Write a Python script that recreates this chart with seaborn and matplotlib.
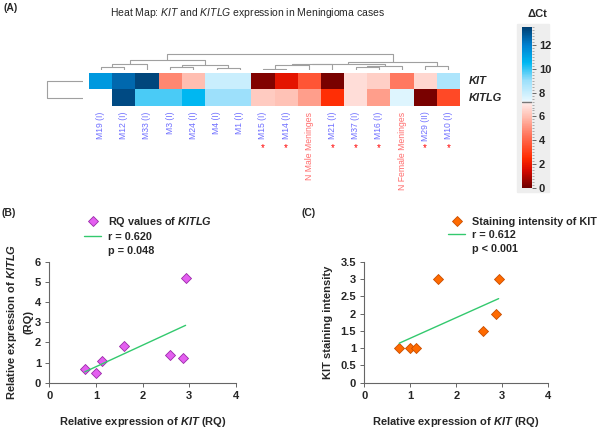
import numpy as np
import pandas as pd
import seaborn as sns
import matplotlib.pyplot as plt
from matplotlib.colors import LinearSegmentedColormap
from matplotlib.lines import Line2D
from matplotlib.patches import Rectangle
from matplotlib.ticker import FuncFormatter, MultipleLocator
from matplotlib.transforms import blended_transform_factory

sns.set_style('ticks')
plt.rcParams['font.family'] = ['Liberation Sans', 'DejaVu Sans']
plt.rcParams['mathtext.fontset'] = 'custom'
plt.rcParams['mathtext.rm'] = 'Liberation Sans'
plt.rcParams['mathtext.it'] = 'Liberation Sans:italic'
plt.rcParams['mathtext.bf'] = 'Liberation Sans:bold'
plt.rcParams['mathtext.bfit'] = 'Liberation Sans:italic:bold'

# ---- data ----
genes = ['KIT', 'KITLG']
samples = ['M19 (I)', 'M12 (I)', 'M33 (I)', 'M3 (I)', 'M24 (I)', 'M4 (I)', 'M1 (I)',
           'M15 (I)', 'M14 (I)', 'N Male Meninges', 'M21 (I)', 'M37 (I)', 'M16 (I)',
           'N Female Meninges', 'M29 (II)', 'M10 (I)']
starred = [False, False, False, False, False, False, False,
           True, True, False, True, True, True, False, True, True]
kit_dct = [11.3, 12.5, 13.3, 4.8, 6.0, 8.0, 8.0, 0.3, 1.8, 3.6, 0.2, 6.8, 6.4, 4.5, 6.6, 8.6]
kitlg_dct = [np.nan, 13.2, 9.8, 9.8, 10.5, 9.0, 9.0, 6.3, 6.1, 5.3, 2.6, 6.8, 5.3, 7.5, 0.2, 3.3]

# merges (left, right, height); leaves 0-15 in plotted order, new nodes numbered from 16
col_merges = [(0, 1, 2.7), (16, 2, 5.7), (3, 4, 3.0), (5, 6, 2.0), (18, 19, 5.0),
              (17, 20, 10.0), (7, 8, 1.5), (22, 9, 5.0), (23, 10, 6.0), (11, 12, 3.0),
              (25, 13, 4.5), (24, 26, 6.5), (14, 15, 4.3), (27, 28, 8.3), (21, 29, 15.7)]
row_merges = [(0, 1, 36.3)]

kit_rq = [0.76, 0.99, 1.13, 1.61, 2.59, 2.86, 2.92]
kitlg_rq = [0.70, 0.46, 1.06, 1.83, 1.36, 1.22, 5.18]
kit_staining = [1, 1, 1, 3, 1.5, 2, 3]

W, H = 600, 430
fig = plt.figure(figsize=(6, 4.3), dpi=100)


def px_axes(left, top, right, bottom):
    return fig.add_axes([left / W, 1 - bottom / H, (right - left) / W, (bottom - top) / H])


def draw_dendrogram(ax, merges, n_leaves, side='top'):
    pos = {i: i + 0.5 for i in range(n_leaves)}
    height = {i: 0.0 for i in range(n_leaves)}
    for k, (a, b, h) in enumerate(merges):
        xs = [pos[a], pos[a], pos[b], pos[b]]
        ys = [height[a], h, h, height[b]]
        if side == 'left':
            ax.plot(ys, xs, color='#a0a0a0', lw=0.8)
        else:
            ax.plot(xs, ys, color='#a0a0a0', lw=0.8)
        pos[n_leaves + k] = (pos[a] + pos[b]) / 2
        height[n_leaves + k] = h
    ax.axis('off')


# ---- (A) heat map ----
stops = [(0.0, '#6e0000'), (1.5, '#d80a00'), (2.5, '#ff2a00'), (4.5, '#ff7860'),
         (6.0, '#ffbfb2'), (7.15, '#ffecea'), (7.3, '#e8f8ff'), (9.0, '#9de0fb'),
         (10.5, '#00b8f2'), (12.0, '#0080d0'), (13.5, '#003f72')]
cmap = LinearSegmentedColormap.from_list('dct', [(v / 13.5, c) for v, c in stops])

ax_hm = px_axes(89, 72.5, 460, 106)
cax = px_axes(522, 27, 532, 188)
hm_df = pd.DataFrame([kit_dct, kitlg_dct], index=genes, columns=samples)
sns.heatmap(hm_df, ax=ax_hm, cmap=cmap, vmin=0, vmax=13.5, cbar_ax=cax,
            xticklabels=True, yticklabels=True)

ax_hm.yaxis.tick_right()
ax_hm.tick_params(length=0)
ax_hm.tick_params(axis='y', pad=6)
ax_hm.tick_params(axis='x', pad=4)
for lab in ax_hm.get_yticklabels():
    lab.set(rotation=0, fontsize=8, fontweight='bold', fontstyle='italic', va='center')
for lab, name in zip(ax_hm.get_xticklabels(), samples):
    lab.set(rotation=90, fontsize=6.2, va='top', ha='center',
            family=['Liberation Sans Narrow', 'Liberation Sans'],
            color='#ff6b6b' if name.startswith('N ') else '#6f6fff')

star_tr = blended_transform_factory(ax_hm.transData, ax_hm.transAxes)
for i, s in enumerate(starred):
    if s:
        ax_hm.text(i + 0.5, -1.25, '*', color='red', fontsize=7,
                   ha='center', va='center', transform=star_tr)

ax_top = px_axes(89, 52, 460, 70)
draw_dendrogram(ax_top, col_merges, len(samples))
ax_top.set_xlim(0, len(samples))
ax_top.set_ylim(0, 18)

ax_left = px_axes(40, 72.5, 83, 106)
draw_dendrogram(ax_left, row_merges, len(genes), side='left')
ax_left.set_xlim(43, 0)
ax_left.set_ylim(len(genes), 0)

cbar = ax_hm.collections[0].colorbar
cbar.outline.set_visible(False)
cbar.set_ticks(range(0, 13, 2))
cax.yaxis.set_minor_locator(MultipleLocator(0.25))
cax.tick_params(which='major', length=3, width=0.6, color='#555555', labelsize=8, pad=2)
cax.tick_params(which='minor', length=1.5, width=0.4, color='#777777')
for lab in cax.get_yticklabels():
    lab.set_fontweight('bold')
cax.axhline(7.2, color='#777777', lw=1)
fig.add_artist(Rectangle((517 / W, 1 - 192 / H), 32 / W, 168 / H, transform=fig.transFigure,
                         color='#eeeeee', zorder=-1))
fig.text(537 / W, 1 - 14 / H, 'ΔCt', fontsize=8, fontweight='bold', ha='center', va='center')

fig.text(247 / W, 1 - 13 / H,
         'Heat Map: $\\mathit{KIT}$ and $\\mathit{KITLG}$ expression in Meningioma cases',
         fontsize=7.5, ha='center', va='center')

# ---- (B) and (C) scatter panels ----
green = '#33c96e'


def scatter_panel(ax, y, face, edge, ymax, ystep):
    sns.regplot(x=kit_rq, y=y, ax=ax, ci=None, marker='D',
                scatter_kws=dict(s=26, color=face, edgecolors=edge, linewidths=0.6, alpha=1),
                line_kws=dict(color=green, lw=1))
    ax.set_xlim(0, 4)
    ax.set_ylim(0, ymax)
    ax.xaxis.set_major_locator(MultipleLocator(1))
    ax.yaxis.set_major_locator(MultipleLocator(ystep))
    ax.yaxis.set_major_formatter(FuncFormatter(lambda v, p: '%g' % v))
    sns.despine(ax=ax)
    for sp in ax.spines.values():
        sp.set_color('#666666')
        sp.set_linewidth(0.8)
    ax.tick_params(length=3, width=0.7, color='#666666', labelsize=8, pad=3)
    for lab in ax.get_xticklabels() + ax.get_yticklabels():
        lab.set_fontweight('bold')
    ax.set_xlabel('Relative expression of $\\mathbfit{KIT}$ (RQ)', fontsize=8,
                  fontweight='bold', labelpad=10)


ax_b = px_axes(49.3, 261.7, 236, 382.7)
scatter_panel(ax_b, kitlg_rq, '#e45ff0', '#9a2aa8', 6, 1)
ax_b.set_ylabel('Relative expression of $\\mathbfit{KITLG}$\n(RQ)', fontsize=8,
                fontweight='bold', labelpad=1, linespacing=1.6)

ax_c = px_axes(364.3, 261.7, 548.3, 382.7)
scatter_panel(ax_c, kit_staining, '#ff6a00', '#c84e00', 3.5, 0.5)
ax_c.set_ylabel('KIT staining intensity', fontsize=8, fontweight='bold', labelpad=5)


def panel_legend(ax, marker_face, marker_edge, first, r_text, p_text, x, y):
    handles = [Line2D([], [], ls='', marker='D', markersize=5.5, markerfacecolor=marker_face,
                      markeredgecolor=marker_edge, markeredgewidth=0.6),
               Line2D([], [], color=green, lw=1),
               Line2D([], [], ls='', marker='')]
    ax.legend(handles, [first, r_text, p_text], loc='upper left',
              bbox_to_anchor=(x / W, 1 - y / H), bbox_transform=fig.transFigure,
              frameon=False, prop=dict(weight='bold', size=7.8), handlelength=1.6,
              handletextpad=0.6, labelspacing=0.3, borderaxespad=0, borderpad=0)


panel_legend(ax_b, '#e45ff0', '#9a2aa8', 'RQ values of $\\mathbfit{KITLG}$',
             'r = 0.620', 'p = 0.048', 84, 215)
panel_legend(ax_c, '#ff6a00', '#c84e00', 'Staining intensity of KIT',
             'r = 0.612', 'p < 0.001', 448, 217)

for label, x, y in [('(A)', 4, 8), ('(B)', 2, 213), ('(C)', 302, 213)]:
    fig.text(x / W, 1 - y / H, label, fontsize=7.5, fontweight='bold', va='center')

fig.savefig('out.png', dpi=100)
